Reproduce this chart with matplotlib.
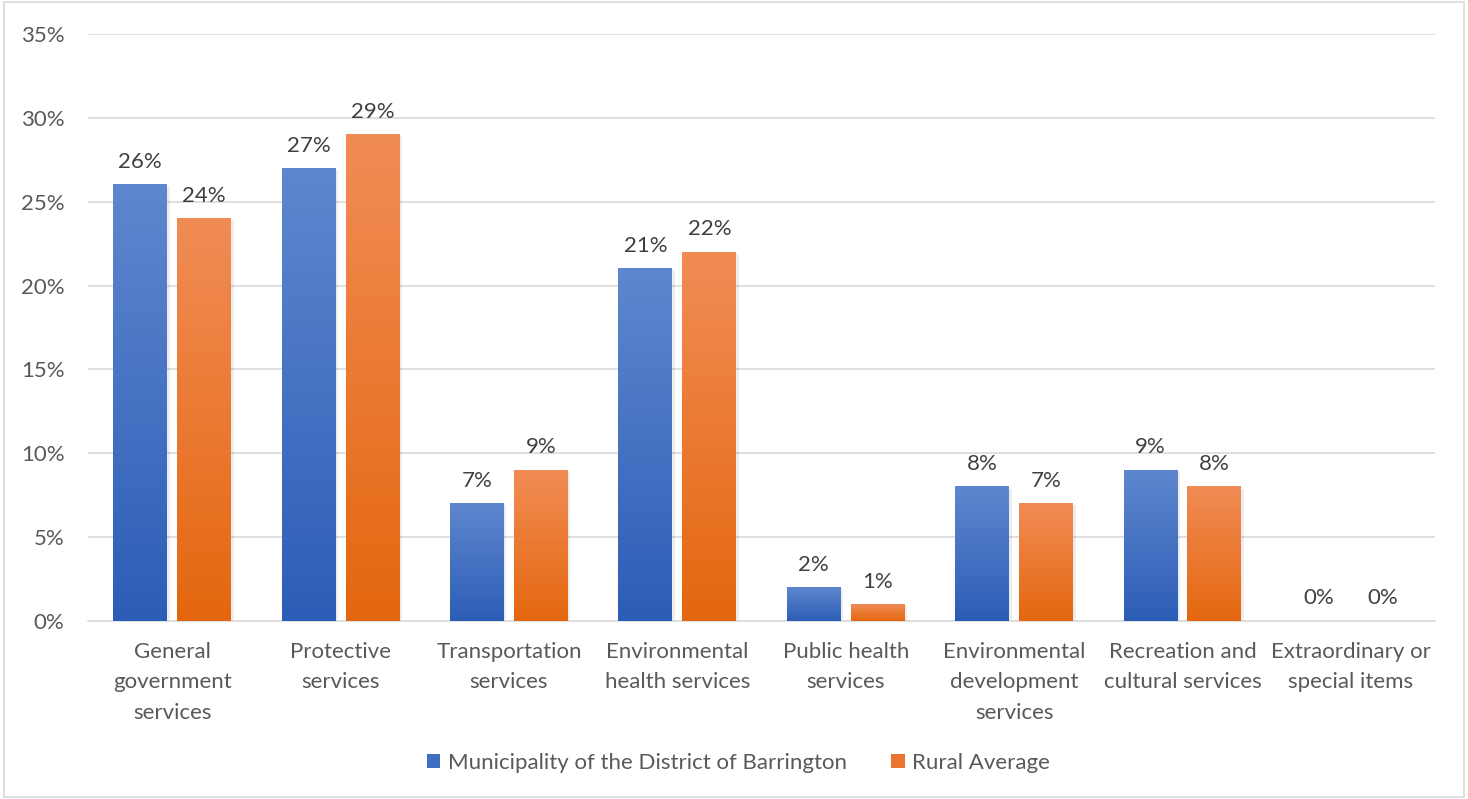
import matplotlib.pyplot as plt
import numpy as np
from matplotlib.colors import LinearSegmentedColormap
from matplotlib.patches import Patch, Rectangle

plt.rcParams['font.family'] = ['Lato', 'DejaVu Sans']

categories = ["General\ngovernment\nservices", "Protective\nservices", "Transportation\nservices",
              "Environmental\nhealth services", "Public health\nservices", "Environmental\ndevelopment\nservices",
              "Recreation and\ncultural services", "Extraordinary or\nspecial items"]
barrington = [26, 27, 7, 21, 2, 8, 9, 0]
rural_avg = [24, 29, 9, 22, 1, 7, 8, 0]
series_names = ["Municipality of the District of Barrington", "Rural Average"]

blue_cm = LinearSegmentedColormap.from_list("b", ["#2C5DB6", "#5F87CF"])
orange_cm = LinearSegmentedColormap.from_list("o", ["#E4670F", "#F18C55"])
txt = "#595959"
fs = 16

fig = plt.figure(figsize=(14.68, 7.99), dpi=100)
ax = fig.add_axes([0.06, 0.2228, 0.9175, 0.7346])
fig.patches.append(Rectangle((0.003, 0.003), 0.994, 0.994, transform=fig.transFigure,
                             fill=False, edgecolor="#D9D9D9", lw=1.2))

x = np.arange(len(categories))
w = 0.32
off = 0.19
grad = np.linspace(0, 1, 256).reshape(-1, 1)
for vals, cm, sign in [(barrington, blue_cm, -1), (rural_avg, orange_cm, 1)]:
    for xi, v in zip(x, vals):
        cx = xi + sign * off
        if v > 0:
            # soft shadow
            ax.add_patch(Rectangle((cx - w / 2 + 0.015, -0.1), w, v, facecolor="#000000",
                                   alpha=0.07, lw=0, zorder=2))
            ax.imshow(grad, cmap=cm, aspect="auto", origin="lower",
                      extent=(cx - w / 2, cx + w / 2, 0, v), zorder=3)
        ax.text(cx, v + 0.75, f"{v}%", ha="center", va="bottom", fontsize=fs, color="#404040", zorder=4)

ax.set_xlim(-0.5, len(categories) - 0.5)
ax.set_ylim(0, 35)
ax.set_yticks(range(0, 36, 5))
ax.set_yticklabels([f"{t}%" for t in range(0, 36, 5)])
ax.set_xticks(x)
ax.set_xticklabels(categories, linespacing=1.65)
ax.tick_params(axis="both", length=0, labelsize=fs, colors=txt)
ax.tick_params(axis="x", pad=15)
ax.tick_params(axis="y", pad=17)
ax.grid(axis="y", color="#D9D9D9", lw=1.2, zorder=0)
ax.set_axisbelow(True)
for s in ["top", "right", "left"]:
    ax.spines[s].set_visible(False)
ax.spines["bottom"].set_color("#D9D9D9")
ax.spines["bottom"].set_linewidth(1.2)

handles = [Patch(facecolor="#3F6DC2"), Patch(facecolor="#EA7530")]
fig.legend(handles, series_names, loc="center", bbox_to_anchor=(0.503, 0.045), ncol=2,
           frameon=False, fontsize=fs, labelcolor=txt, handlelength=0.6, handleheight=0.6,
           handletextpad=0.35, columnspacing=2.0)

fig.savefig("out.png", dpi=100)
